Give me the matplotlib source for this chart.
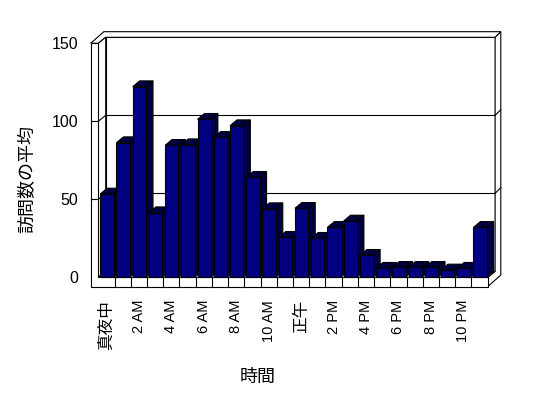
import matplotlib
matplotlib.use('Agg')
import matplotlib.pyplot as plt
from matplotlib import patches

plt.rcParams['font.family'] = ['Liberation Sans', 'Noto Sans CJK JP']

hours = ['真夜中', '1 AM', '2 AM', '3 AM', '4 AM', '5 AM', '6 AM', '7 AM',
         '8 AM', '9 AM', '10 AM', '11 AM', '正午', '1 PM', '2 PM', '3 PM',
         '4 PM', '5 PM', '6 PM', '7 PM', '8 PM', '9 PM', '10 PM', '11 PM']
visits = [53.4, 86.3, 122.2, 41.4, 84.6, 85.0, 101.3, 89.7, 97.2, 64.1,
          44.0, 25.6, 44.2, 25.0, 32.0, 36.1, 14.1, 5.8, 6.4, 6.4, 6.4,
          4.7, 5.8, 32.0]
yticks = [0, 50, 100, 150]

n = len(hours)
ymax = 150
# depth offsets in data units (oblique 3d look)
dx, dy = 0.456, 3.85        # inside of the box
tx, ty = 0.351, 3.59        # back wall thickness
ax_, ay_ = dx + tx, dy + ty
wall = 0.468                # left wall thickness
floor = 6.0                 # floor thickness
bdx, bdy = 0.43, 3.7        # bar depth
lw = 0.8


def poly(ax, pts, fc='white', z=1):
    ax.add_patch(patches.Polygon(pts, closed=True, fc=fc, ec='black',
                                 lw=lw, zorder=z, clip_on=False))


def line(ax, p, q, z=2):
    ax.plot([p[0], q[0]], [p[1], q[1]], color='black', lw=lw,
            zorder=z, clip_on=False)


fig = plt.figure(figsize=(5.48, 3.98), dpi=100)
ax = fig.add_axes([98.3 / 548, 1 - 277.3 / 398, 389.4 / 548, 234 / 398])
ax.set_xlim(0, n)
ax.set_ylim(0, ymax)
for s in ax.spines.values():
    s.set_visible(False)

# back wall
poly(ax, [(dx, dy), (n + dx, dy), (n + dx, ymax + dy), (dx, ymax + dy)])
# right side of back wall + floor
poly(ax, [(n, 0), (n, -floor), (n + ax_, -floor + ay_), (n + ax_, ymax + ay_),
          (n + dx, ymax + dy), (n + dx, dy)])
# top of left wall + back wall
poly(ax, [(-wall, ymax), (-wall + ax_, ymax + ay_), (n + ax_, ymax + ay_),
          (n + dx, ymax + dy), (dx, ymax + dy), (0, ymax)])
# inner face of left wall
poly(ax, [(0, 0), (dx, dy), (dx, ymax + dy), (0, ymax)])
# floor top
poly(ax, [(0, 0), (n, 0), (n + dx, dy), (dx, dy)])
# front of left wall and floor
poly(ax, [(-wall, -floor), (n, -floor), (n, 0), (0, 0), (0, ymax),
          (-wall, ymax)])
for i in range(1, n):
    line(ax, (i, -floor), (i, 0))

for v in yticks[1:-1]:
    line(ax, (-wall, v), (0, v))
    line(ax, (0, v), (dx, v + dy))
    line(ax, (dx, v + dy), (n + dx, v + dy))
    line(ax, (n + dx, v + dy), (n + ax_, v + ay_))

# bars, drawn left to right so that each hides the side of the one before
bw = 0.82
bars = ax.bar([i + 0.53 for i in range(n)], visits, width=bw,
              color='#000080', edgecolor='black', lw=lw, clip_on=False)
for i, (b, h) in enumerate(zip(bars, visits)):
    xl = i + 0.53 - bw / 2
    xr = xl + bw
    z = 10 + 3 * i
    poly(ax, [(xr, 0), (xr + bdx, bdy), (xr + bdx, h + bdy), (xr, h)],
         fc='#000040', z=z)
    poly(ax, [(xl, h), (xr, h), (xr + bdx, h + bdy), (xl + bdx, h + bdy)],
         fc='#000040', z=z + 1)
    b.set_zorder(z + 2)

ax.set_yticks(yticks)
ax.set_yticklabels([str(v) for v in yticks], fontsize=11.5)
ax.set_xticks([i + 0.5 for i in range(0, n, 2)])
ax.set_xticklabels(hours[::2], rotation=90, fontsize=10.5)
for t in ax.get_xticklabels():
    if not t.get_text()[0].isdigit():
        t.set_fontsize(12)
ax.tick_params(axis='y', length=0, pad=14.6)
ax.tick_params(axis='x', length=0, pad=16.3)

ax.set_ylabel('訪問数の平均', fontsize=13)
ax.yaxis.label.set_va('center')
ax.yaxis.set_label_coords(-0.182, 0.42)
ax.set_xlabel('時間', fontsize=13)
ax.xaxis.label.set_va('center')
ax.xaxis.set_label_coords(0.41, -0.43)

fig.savefig('out.png', dpi=100)
